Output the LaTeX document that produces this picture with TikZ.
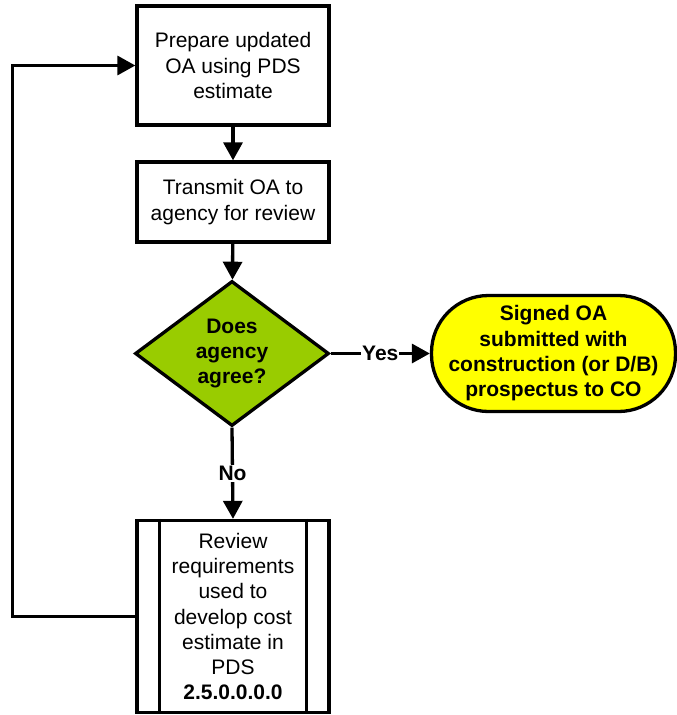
\documentclass[tikz,border=0pt]{standalone}
\usepackage{fontspec}
\setmainfont{Liberation Sans}
\usetikzlibrary{shapes.geometric,arrows.meta}
\definecolor{dgreen}{HTML}{99CC00}
\definecolor{tyellow}{HTML}{FFFF00}
\begin{document}
\begin{tikzpicture}[x=1pt,y=-1pt,
  every node/.style={font=\fontsize{21}{25.3}\selectfont, align=center, line width=3.3pt},
  procbox/.style={draw, rectangle, minimum width=192pt, inner sep=0pt},
  decbox/.style={draw, diamond, fill=dgreen, minimum width=194pt, minimum height=145pt, inner sep=0pt, aspect=1, font=\fontsize{21}{25.3}\selectfont\bfseries},
  termbox/.style={draw, rectangle, rounded corners=57pt, fill=tyellow, minimum width=244pt, minimum height=116pt, inner sep=0pt, font=\fontsize{21}{25.3}\selectfont\bfseries},
  arr/.style={line width=3.3pt, -{Triangle[length=18pt,width=19pt]}},
  lbl/.style={fill=white, inner sep=1pt, font=\fontsize{21}{25.3}\selectfont\bfseries}
]
\useasboundingbox (0,0) rectangle (677,715);
\node[procbox, minimum height=119pt] (b1) at (233,65.5) {Prepare updated\\OA using PDS\\estimate};
\node[procbox, minimum height=80pt] (b2) at (233,202) {Transmit OA to\\agency for review};
\node[decbox] (d) at (232,353.5) {Does\\agency\\agree?};
\node[termbox] (t) at (553.5,353.5) {Signed OA\\submitted with\\construction (or D/B)\\prospectus to CO};
\node[procbox, minimum height=192pt] (b3) at (233,616.5) {Review\\requirements\\used to\\develop cost\\estimate in\\PDS\\\textbf{2.5.0.0.0.0}};
\draw[line width=3.3pt] ([xshift=24pt]b3.north west) -- ([xshift=24pt]b3.south west);
\draw[line width=3.3pt] ([xshift=-24pt]b3.north east) -- ([xshift=-24pt]b3.south east);
\draw[arr] (b1) -- (b2);
\draw[arr] (b2) -- (d);
\draw[arr] (d.east) -- node[lbl] {Yes} (t.west);
\draw[arr] (d.south) -- node[lbl] {No} (b3.north);
\draw[arr] (b3.west) -- ++(-123,0) |- (b1.west);
\end{tikzpicture}
\end{document}
